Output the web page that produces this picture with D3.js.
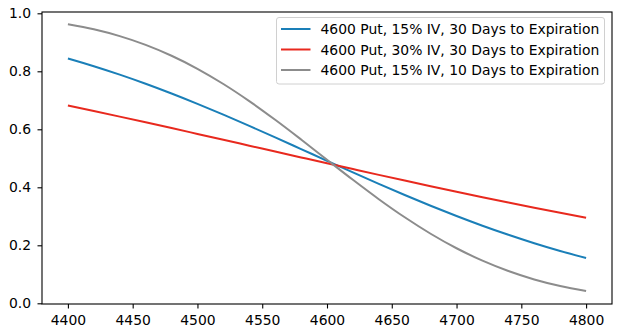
<!DOCTYPE html>
<html><head><meta charset="utf-8">
<script src="https://cdn.jsdelivr.net/npm/d3@7"></script>
<style>body{margin:0;background:#fff}svg{display:block}</style>
</head><body>
<script>
const prices = [4400,4420,4440,4460,4480,4500,4520,4540,4560,4580,4600,4620,4640,4660,4680,4700,4720,4740,4760,4780,4800];
const put15iv30d = [0.8443,0.8177,0.7886,0.7572,0.7235,0.6878,0.6504,0.6117,0.5721,0.5318,0.4914,0.4513,0.4118,0.3734,0.3363,0.3010,0.2675,0.2362,0.2071,0.1803,0.1560];
const put30iv30d = [0.6822,0.6632,0.6438,0.6241,0.6042,0.5841,0.5640,0.5436,0.5233,0.5030,0.4828,0.4628,0.4429,0.4232,0.4038,0.3847,0.3660,0.3477,0.3298,0.3123,0.2953];
const put15iv10d = [0.9623,0.9447,0.9212,0.8911,0.8536,0.8086,0.7562,0.6972,0.6328,0.5648,0.4951,0.4258,0.3590,0.2966,0.2398,0.1898,0.1470,0.1113,0.0823,0.0596,0.0421];
const seriesNames = ["4600 Put, 15% IV, 30 Days to Expiration","4600 Put, 30% IV, 30 Days to Expiration","4600 Put, 15% IV, 10 Days to Expiration"];
const seriesColors = ["#1a7fb8","#e8291e","#8c8c8c"];
const xTicks = [4400,4450,4500,4550,4600,4650,4700,4750,4800];
const yTicks = [0.0,0.2,0.4,0.6,0.8,1.0];

const W=627,H=333;
const m={left:42,right:15,top:12,bottom:29};
const svg=d3.select("body").append("svg").attr("width",W).attr("height",H);
const x=d3.scaleLinear().domain([4380,4820]).range([m.left,W-m.right]);
const y=d3.scaleLinear().domain([-0.0024,1.0045]).range([H-m.bottom,m.top]);

const font="DejaVu Sans";
const fs=13.9;
const series=[put15iv30d,put30iv30d,put15iv10d];
const line=d3.line().x((d,i)=>x(prices[i])).y(d=>y(d)).curve(d3.curveMonotoneX);
series.forEach((s,k)=>{
  svg.append("path").datum(s).attr("d",line).attr("fill","none")
    .attr("stroke",seriesColors[k]).attr("stroke-width",2);
});

const xa=svg.append("g").attr("transform",`translate(0,${H-m.bottom})`)
  .call(d3.axisBottom(x).tickValues(xTicks).tickFormat(d3.format("d")).tickSizeInner(4.5).tickSizeOuter(0).tickPadding(6.5));
const ya=svg.append("g").attr("transform",`translate(${m.left},0)`)
  .call(d3.axisLeft(y).tickValues(yTicks).tickFormat(d3.format(".1f")).tickSizeInner(4.5).tickSizeOuter(0).tickPadding(6.5));
[xa,ya].forEach(a=>{
  a.selectAll("text").attr("font-family",font).attr("font-size",fs).attr("fill","#000");
  a.selectAll("line").attr("stroke","#000").attr("stroke-width",1.1);
  a.select(".domain").remove();
});
svg.append("rect").attr("x",m.left).attr("y",m.top).attr("width",W-m.right-m.left).attr("height",H-m.bottom-m.top)
  .attr("fill","none").attr("stroke","#000").attr("stroke-width",1.1);

const lg=svg.append("g");
lg.append("rect").attr("x",276.5).attr("y",17.5).attr("width",328).attr("height",66.5).attr("rx",2.5)
  .attr("fill","#fff").attr("fill-opacity",0.8).attr("stroke","#d0d0d0").attr("stroke-width",1);
seriesNames.forEach((n,k)=>{
  const yy=29+k*20.5;
  lg.append("line").attr("x1",281).attr("x2",310.5).attr("y1",yy).attr("y2",yy)
    .attr("stroke",seriesColors[k]).attr("stroke-width",2);
  lg.append("text").attr("x",320.5).attr("y",yy).attr("dy","0.36em").text(n)
    .attr("font-family",font).attr("font-size",fs).attr("fill","#000");
});
</script>
</body></html>
